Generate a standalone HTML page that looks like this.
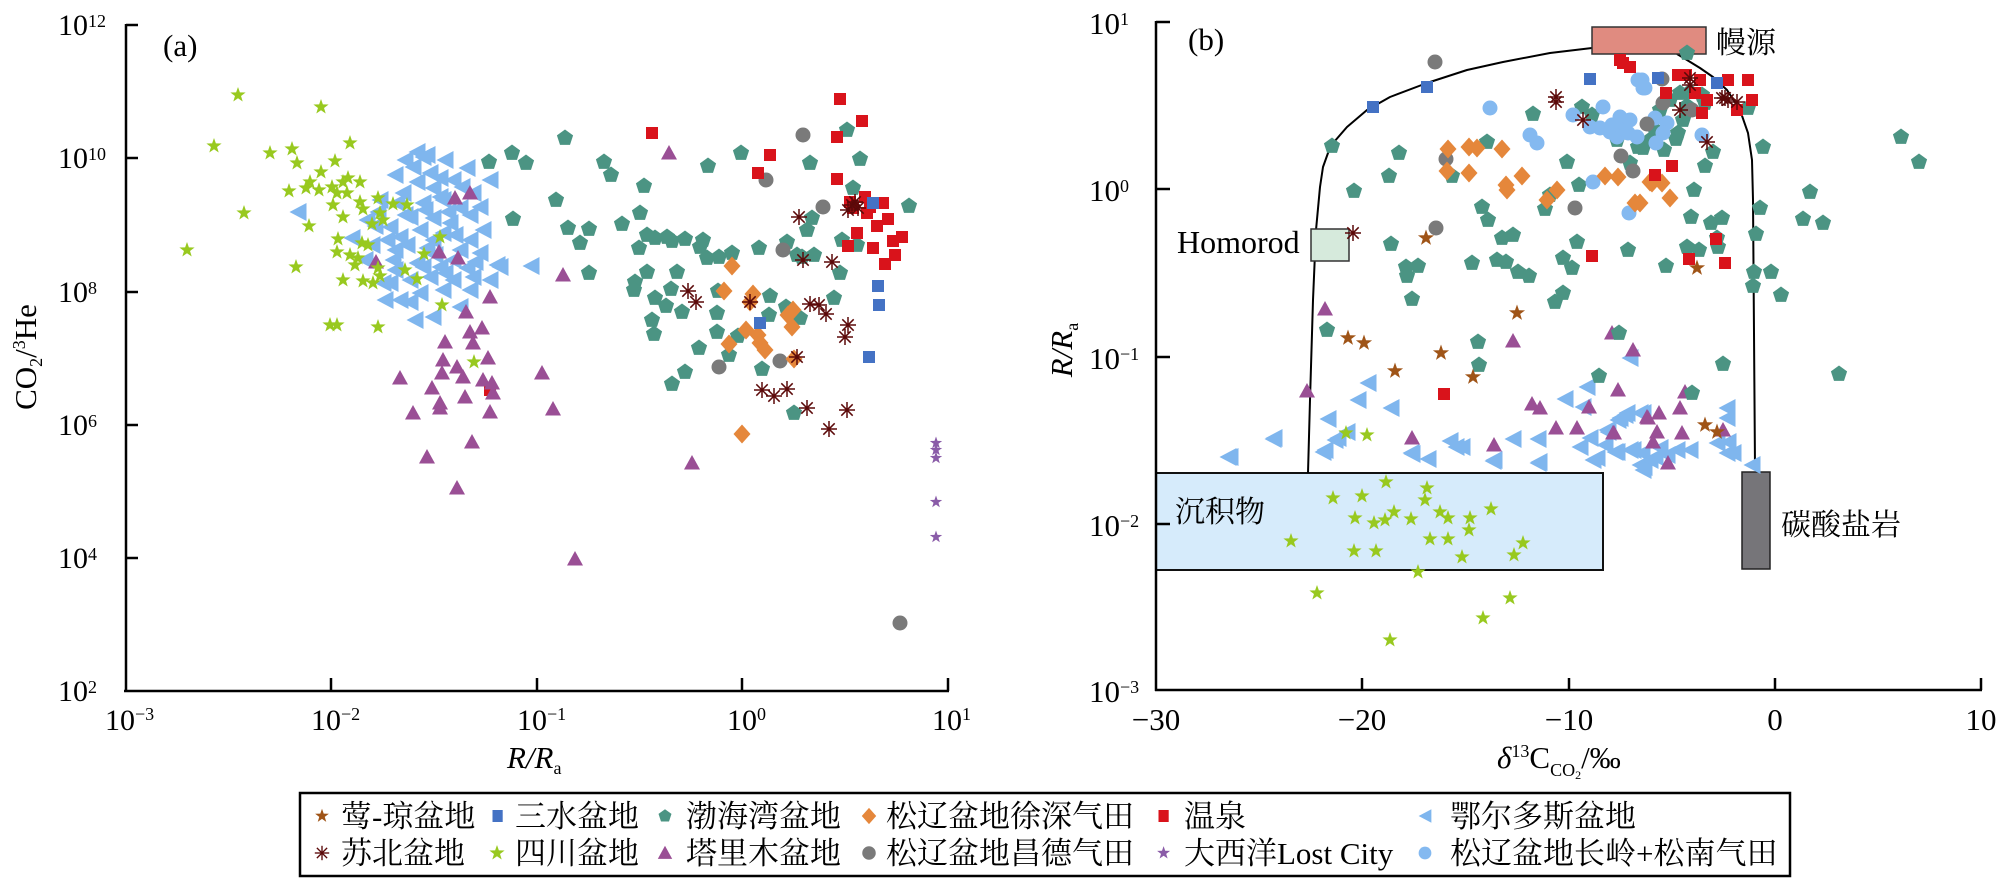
<!DOCTYPE html>
<html><head><meta charset="utf-8"><style>html,body{margin:0;padding:0;background:#fff}svg{display:block}</style></head>
<body>
<svg width="2000" height="878" viewBox="0 0 2000 878" xmlns="http://www.w3.org/2000/svg" font-family="'Liberation Serif','Noto Serif CJK SC',serif">
<defs>
<polygon id="pt" points="0,-8.5 8.1,-2.6 5,6.9 -5,6.9 -8.1,-2.6" fill="#4b9483"/>
<rect id="rs" x="-6" y="-6" width="12" height="12" fill="#d9131b"/>
<rect id="bs" x="-6" y="-6" width="12" height="12" fill="#4472c4"/>
<polygon id="dm" points="0,-9.5 8.5,0 0,9.5 -8.5,0" fill="#e5873b"/>
<circle id="gc" r="7.5" fill="#7a7a7a"/>
<circle id="lc" r="7.5" fill="#84b9f0"/>
<polygon id="lt" points="-8.5,0 8.5,-9 8.5,9" fill="#7fb6ee"/>
<polygon id="ut" points="0,-8 8,6.5 -8,6.5" fill="#9a4f95"/>
<polygon id="gs" points="0,-8 1.88,-2.6 7.6,-2.47 3.04,0.99 4.7,6.47 0,3.2 -4.7,6.47 -3.04,0.99 -7.6,-2.47 -1.88,-2.6" fill="#98c91f"/>
<polygon id="bst" points="0,-8.5 2,-2.75 8.08,-2.63 3.23,1.05 5,6.88 0,3.4 -5,6.88 -3.23,1.05 -8.08,-2.63 -2,-2.75" fill="#9f5417"/>
<polygon id="ps" points="0,-6.5 1.53,-2.1 6.18,-2.01 2.47,0.8 3.82,5.26 0,2.6 -3.82,5.26 -2.47,0.8 -6.18,-2.01 -1.53,-2.1" fill="#8a5ca8"/>
<g id="as" stroke="#5b0909" stroke-width="1.5"><line x1="-8" y1="0" x2="8" y2="0"/><line x1="0" y1="-8" x2="0" y2="8"/><line x1="-5.7" y1="-5.7" x2="5.7" y2="5.7"/><line x1="-5.7" y1="5.7" x2="5.7" y2="-5.7"/></g>
</defs>

<!-- ============ PANEL A ============ -->
<g stroke="#000" stroke-width="2.5" fill="none">
<line x1="126" y1="24" x2="126" y2="692"/>
<line x1="124" y1="691" x2="949" y2="691"/>
<line x1="126" y1="25" x2="138" y2="25"/>
<line x1="126" y1="158" x2="138" y2="158"/>
<line x1="126" y1="292" x2="138" y2="292"/>
<line x1="126" y1="425" x2="138" y2="425"/>
<line x1="126" y1="558" x2="138" y2="558"/>
<line x1="331" y1="691" x2="331" y2="678"/>
<line x1="537" y1="691" x2="537" y2="678"/>
<line x1="742" y1="691" x2="742" y2="678"/>
<line x1="948" y1="691" x2="948" y2="678"/>
</g>
<g font-size="30" fill="#000">
<text x="58" y="35">10<tspan font-size="18" dy="-8">12</tspan></text>
<text x="58" y="168">10<tspan font-size="18" dy="-8">10</tspan></text>
<text x="58" y="302">10<tspan font-size="18" dy="-8">8</tspan></text>
<text x="58" y="435">10<tspan font-size="18" dy="-8">6</tspan></text>
<text x="58" y="568">10<tspan font-size="18" dy="-8">4</tspan></text>
<text x="58" y="701">10<tspan font-size="18" dy="-8">2</tspan></text>
<text x="105" y="730">10<tspan font-size="18" dy="-10">−3</tspan></text>
<text x="311" y="730">10<tspan font-size="18" dy="-10">−2</tspan></text>
<text x="517" y="730">10<tspan font-size="18" dy="-10">−1</tspan></text>
<text x="727" y="730">10<tspan font-size="18" dy="-10">0</tspan></text>
<text x="932" y="730">10<tspan font-size="18" dy="-10">1</tspan></text>
</g>
<text x="163" y="56" font-size="31">(a)</text>
<text x="507" y="768" font-size="31" font-style="italic">R/R<tspan font-size="18" font-style="normal" dy="6">a</tspan></text>
<text transform="translate(36,357) rotate(-90)" text-anchor="middle" font-size="31">CO<tspan font-size="18" dy="6">2</tspan><tspan dy="-6">/</tspan><tspan font-size="18" dy="-11">3</tspan><tspan dy="11">He</tspan></text>

<!-- Ordos (a) -->
<g>
<use href="#lt" x="298" y="212"/><use href="#lt" x="417" y="152"/><use href="#lt" x="423" y="157"/><use href="#lt" x="427" y="155"/><use href="#lt" x="413" y="167"/><use href="#lt" x="430" y="173"/><use href="#lt" x="417" y="182"/><use href="#lt" x="467" y="168"/><use href="#lt" x="453" y="180"/><use href="#lt" x="433" y="188"/><use href="#lt" x="403" y="193"/><use href="#lt" x="473" y="193"/><use href="#lt" x="462" y="187"/><use href="#lt" x="443" y="200"/><use href="#lt" x="440" y="197"/><use href="#lt" x="423" y="203"/><use href="#lt" x="397" y="203"/><use href="#lt" x="460" y="208"/><use href="#lt" x="480" y="207"/><use href="#lt" x="410" y="217"/><use href="#lt" x="433" y="218"/><use href="#lt" x="448" y="212"/><use href="#lt" x="450" y="223"/><use href="#lt" x="367" y="220"/><use href="#lt" x="390" y="227"/><use href="#lt" x="420" y="230"/><use href="#lt" x="443" y="233"/><use href="#lt" x="483" y="230"/><use href="#lt" x="470" y="240"/><use href="#lt" x="387" y="240"/><use href="#lt" x="400" y="237"/><use href="#lt" x="433" y="240"/><use href="#lt" x="407" y="245"/><use href="#lt" x="427" y="248"/><use href="#lt" x="460" y="250"/><use href="#lt" x="480" y="253"/><use href="#lt" x="393" y="260"/><use href="#lt" x="417" y="263"/><use href="#lt" x="440" y="267"/><use href="#lt" x="453" y="260"/><use href="#lt" x="467" y="268"/><use href="#lt" x="497" y="265"/><use href="#lt" x="423" y="267"/><use href="#lt" x="445" y="273"/><use href="#lt" x="390" y="283"/><use href="#lt" x="383" y="283"/><use href="#lt" x="410" y="280"/><use href="#lt" x="430" y="277"/><use href="#lt" x="453" y="280"/><use href="#lt" x="473" y="277"/><use href="#lt" x="400" y="300"/><use href="#lt" x="420" y="293"/><use href="#lt" x="443" y="290"/><use href="#lt" x="460" y="307"/><use href="#lt" x="433" y="317"/><use href="#lt" x="410" y="302"/><use href="#lt" x="500" y="267"/><use href="#lt" x="531" y="266"/><use href="#lt" x="375" y="226"/><use href="#lt" x="395" y="250"/><use href="#lt" x="405" y="215"/>
<use href="#lt" x="395" y="175"/><use href="#lt" x="380" y="200"/><use href="#lt" x="470" y="215"/><use href="#lt" x="455" y="235"/><use href="#lt" x="395" y="270"/><use href="#lt" x="415" y="320"/><use href="#lt" x="385" y="300"/><use href="#lt" x="470" y="290"/><use href="#lt" x="490" y="280"/><use href="#lt" x="405" y="160"/><use href="#lt" x="445" y="160"/><use href="#lt" x="490" y="180"/><use href="#lt" x="435" y="255"/><use href="#lt" x="475" y="262"/><use href="#lt" x="372" y="245"/><use href="#lt" x="365" y="260"/><use href="#lt" x="352" y="238"/><use href="#lt" x="378" y="212"/><use href="#lt" x="425" y="210"/><use href="#lt" x="440" y="178"/>
</g>
<!-- Bohai (a) -->
<g>
<use href="#pt" x="489" y="162"/><use href="#pt" x="565" y="138"/><use href="#pt" x="512" y="153"/><use href="#pt" x="526" y="163"/><use href="#pt" x="604" y="162"/><use href="#pt" x="611" y="175"/><use href="#pt" x="644" y="186"/><use href="#pt" x="708" y="166"/><use href="#pt" x="741" y="153"/><use href="#pt" x="810" y="163"/><use href="#pt" x="847" y="130"/><use href="#pt" x="860" y="159"/><use href="#pt" x="853" y="188"/><use href="#pt" x="909" y="206"/><use href="#pt" x="556" y="200"/><use href="#pt" x="513" y="219"/><use href="#pt" x="568" y="228"/><use href="#pt" x="589" y="229"/><use href="#pt" x="580" y="243"/><use href="#pt" x="622" y="224"/><use href="#pt" x="640" y="213"/><use href="#pt" x="647" y="235"/><use href="#pt" x="655" y="238"/><use href="#pt" x="667" y="237"/><use href="#pt" x="672" y="241"/><use href="#pt" x="685" y="239"/><use href="#pt" x="639" y="248"/><use href="#pt" x="703" y="240"/><use href="#pt" x="700" y="247"/><use href="#pt" x="707" y="258"/><use href="#pt" x="719" y="257"/><use href="#pt" x="732" y="253"/><use href="#pt" x="759" y="248"/><use href="#pt" x="787" y="242"/><use href="#pt" x="797" y="255"/><use href="#pt" x="802" y="257"/><use href="#pt" x="814" y="255"/><use href="#pt" x="807" y="230"/><use href="#pt" x="812" y="218"/><use href="#pt" x="842" y="240"/><use href="#pt" x="857" y="245"/><use href="#pt" x="840" y="273"/><use href="#pt" x="589" y="273"/><use href="#pt" x="647" y="272"/><use href="#pt" x="635" y="282"/><use href="#pt" x="634" y="290"/><use href="#pt" x="677" y="272"/><use href="#pt" x="671" y="289"/><use href="#pt" x="655" y="298"/><use href="#pt" x="666" y="306"/><use href="#pt" x="682" y="312"/><use href="#pt" x="652" y="320"/><use href="#pt" x="654" y="334"/><use href="#pt" x="717" y="313"/><use href="#pt" x="717" y="332"/><use href="#pt" x="718" y="291"/><use href="#pt" x="770" y="296"/><use href="#pt" x="769" y="315"/><use href="#pt" x="786" y="307"/><use href="#pt" x="800" y="318"/><use href="#pt" x="834" y="298"/><use href="#pt" x="738" y="336"/><use href="#pt" x="729" y="355"/><use href="#pt" x="699" y="348"/><use href="#pt" x="685" y="372"/><use href="#pt" x="672" y="384"/><use href="#pt" x="762" y="369"/><use href="#pt" x="794" y="413"/>
</g>
<g>
<use href="#gc" x="803" y="135"/><use href="#gc" x="766" y="180"/><use href="#gc" x="823" y="207"/><use href="#gc" x="783" y="250"/><use href="#gc" x="719" y="367"/><use href="#gc" x="780" y="361"/><use href="#gc" x="900" y="623"/>
</g>
<g>
<use href="#dm" x="732" y="266"/><use href="#dm" x="724" y="291"/><use href="#dm" x="753" y="294"/><use href="#dm" x="750" y="302"/><use href="#dm" x="793" y="310"/><use href="#dm" x="788" y="315"/><use href="#dm" x="792" y="327"/><use href="#dm" x="746" y="330"/><use href="#dm" x="758" y="335"/><use href="#dm" x="760" y="343"/><use href="#dm" x="765" y="350"/><use href="#dm" x="729" y="344"/><use href="#dm" x="794" y="359"/><use href="#dm" x="742" y="434"/>
</g>
<g>
<use href="#bs" x="878" y="286"/><use href="#bs" x="879" y="305"/><use href="#bs" x="760" y="323"/><use href="#bs" x="869" y="357"/>
</g>
<g>
<use href="#rs" x="490" y="390"/><use href="#rs" x="840" y="99"/><use href="#rs" x="862" y="121"/><use href="#rs" x="652" y="133"/><use href="#rs" x="837" y="137"/><use href="#rs" x="770" y="155"/><use href="#rs" x="758" y="173"/><use href="#rs" x="837" y="179"/><use href="#rs" x="865" y="197"/><use href="#rs" x="850" y="202"/><use href="#rs" x="883" y="203"/><use href="#rs" x="867" y="213"/><use href="#rs" x="888" y="219"/><use href="#rs" x="877" y="226"/><use href="#rs" x="857" y="233"/><use href="#rs" x="902" y="237"/><use href="#rs" x="893" y="241"/><use href="#rs" x="848" y="246"/><use href="#rs" x="873" y="248"/><use href="#rs" x="895" y="255"/><use href="#rs" x="885" y="264"/><use href="#rs" x="853" y="208"/><use href="#rs" x="870" y="207"/>
<use href="#bs" x="873" y="203"/>
</g>
<g>
<use href="#ut" x="455" y="198"/><use href="#ut" x="470" y="193"/><use href="#ut" x="376" y="262"/><use href="#ut" x="439" y="252"/><use href="#ut" x="458" y="258"/><use href="#ut" x="490" y="297"/><use href="#ut" x="466" y="312"/><use href="#ut" x="445" y="342"/><use href="#ut" x="470" y="332"/><use href="#ut" x="482" y="328"/><use href="#ut" x="473" y="343"/><use href="#ut" x="443" y="360"/><use href="#ut" x="488" y="358"/><use href="#ut" x="457" y="367"/><use href="#ut" x="442" y="373"/><use href="#ut" x="463" y="377"/><use href="#ut" x="400" y="378"/><use href="#ut" x="432" y="388"/><use href="#ut" x="483" y="380"/><use href="#ut" x="492" y="383"/><use href="#ut" x="465" y="397"/><use href="#ut" x="440" y="403"/><use href="#ut" x="440" y="408"/><use href="#ut" x="413" y="413"/><use href="#ut" x="490" y="412"/><use href="#ut" x="493" y="393"/><use href="#ut" x="472" y="442"/><use href="#ut" x="669" y="153"/><use href="#ut" x="563" y="275"/><use href="#ut" x="542" y="373"/><use href="#ut" x="553" y="409"/><use href="#ut" x="427" y="457"/><use href="#ut" x="457" y="488"/><use href="#ut" x="575" y="559"/><use href="#ut" x="692" y="463"/>
</g>
<g>
<use href="#gs" x="238" y="95"/><use href="#gs" x="321" y="107"/><use href="#gs" x="214" y="146"/><use href="#gs" x="270" y="153"/><use href="#gs" x="292" y="149"/><use href="#gs" x="297" y="163"/><use href="#gs" x="350" y="143"/><use href="#gs" x="335" y="161"/><use href="#gs" x="321" y="172"/><use href="#gs" x="310" y="182"/><use href="#gs" x="289" y="191"/><use href="#gs" x="306" y="188"/><use href="#gs" x="319" y="190"/><use href="#gs" x="332" y="187"/><use href="#gs" x="343" y="182"/><use href="#gs" x="348" y="178"/><use href="#gs" x="360" y="182"/><use href="#gs" x="337" y="193"/><use href="#gs" x="347" y="193"/><use href="#gs" x="333" y="205"/><use href="#gs" x="360" y="202"/><use href="#gs" x="378" y="198"/><use href="#gs" x="363" y="209"/><use href="#gs" x="380" y="213"/><use href="#gs" x="343" y="217"/><use href="#gs" x="383" y="220"/><use href="#gs" x="393" y="204"/><use href="#gs" x="407" y="205"/><use href="#gs" x="372" y="224"/><use href="#gs" x="244" y="213"/><use href="#gs" x="309" y="226"/><use href="#gs" x="187" y="250"/><use href="#gs" x="338" y="239"/><use href="#gs" x="362" y="243"/><use href="#gs" x="368" y="245"/><use href="#gs" x="337" y="252"/><use href="#gs" x="350" y="255"/><use href="#gs" x="358" y="258"/><use href="#gs" x="355" y="265"/><use href="#gs" x="378" y="268"/><use href="#gs" x="405" y="270"/><use href="#gs" x="417" y="279"/><use href="#gs" x="343" y="280"/><use href="#gs" x="363" y="281"/><use href="#gs" x="373" y="283"/><use href="#gs" x="380" y="276"/><use href="#gs" x="424" y="254"/><use href="#gs" x="440" y="237"/><use href="#gs" x="296" y="267"/><use href="#gs" x="330" y="325"/><use href="#gs" x="337" y="325"/><use href="#gs" x="378" y="327"/><use href="#gs" x="442" y="305"/><use href="#gs" x="474" y="362"/>
</g>
<g>
<use href="#as" x="688" y="291"/><use href="#as" x="696" y="302"/><use href="#as" x="750" y="302"/><use href="#as" x="799" y="217"/><use href="#as" x="803" y="260"/><use href="#as" x="832" y="262"/><use href="#as" x="810" y="304"/><use href="#as" x="819" y="305"/><use href="#as" x="826" y="314"/><use href="#as" x="848" y="325"/><use href="#as" x="845" y="337"/><use href="#as" x="797" y="357"/><use href="#as" x="762" y="390"/><use href="#as" x="774" y="396"/><use href="#as" x="787" y="389"/><use href="#as" x="807" y="408"/><use href="#as" x="847" y="410"/><use href="#as" x="829" y="429"/><use href="#as" x="852" y="205"/><use href="#as" x="855" y="202"/><use href="#as" x="848" y="210"/><use href="#as" x="858" y="208"/>
</g>
<g>
<use href="#ps" x="936" y="443"/><use href="#ps" x="936" y="450"/><use href="#ps" x="936" y="458"/><use href="#ps" x="936" y="502"/><use href="#ps" x="936" y="537"/>
</g>

<!-- ============ PANEL B ============ -->
<rect x="1156" y="473" width="447" height="97" fill="#d6ebfb" stroke="#111" stroke-width="2"/>
<rect x="1742" y="472" width="28" height="97" fill="#767579" stroke="#222" stroke-width="1.5"/>
<polyline fill="none" stroke="#000" stroke-width="2" stroke-linejoin="round" points="1308,473 1310,400 1313,300 1316,230 1320,187 1323,167 1328,153 1334,142 1347,127 1367,110 1390,97 1427,83 1467,70 1503,62 1550,53 1592,48"/>
<polyline fill="none" stroke="#000" stroke-width="2" stroke-linejoin="round" points="1677,54 1687,60 1700,68 1713,77 1727,90 1740,110 1748,133 1752,160 1753,200 1754,333 1755,467"/>
<rect x="1592" y="27" width="114" height="27" fill="#e08b80" stroke="#333" stroke-width="1.5"/>
<rect x="1311" y="229" width="38" height="32" fill="#d6eadc" stroke="#333" stroke-width="1.5"/>

<g stroke="#000" stroke-width="2.5" fill="none">
<line x1="1156" y1="21" x2="1156" y2="691"/>
<line x1="1155" y1="690" x2="1982" y2="690"/>
<line x1="1156" y1="22" x2="1170" y2="22"/>
<line x1="1156" y1="189" x2="1170" y2="189"/>
<line x1="1156" y1="357" x2="1170" y2="357"/>
<line x1="1156" y1="524" x2="1170" y2="524"/>
<line x1="1362" y1="690" x2="1362" y2="678"/>
<line x1="1569" y1="690" x2="1569" y2="678"/>
<line x1="1775" y1="690" x2="1775" y2="678"/>
<line x1="1981" y1="690" x2="1981" y2="678"/>
</g>
<g font-size="31" fill="#000">
<text x="1089" y="34">10<tspan font-size="18" dy="-9">1</tspan></text>
<text x="1089" y="201">10<tspan font-size="18" dy="-9">0</tspan></text>
<text x="1089" y="369">10<tspan font-size="18" dy="-9">−1</tspan></text>
<text x="1089" y="536">10<tspan font-size="18" dy="-9">−2</tspan></text>
<text x="1089" y="702">10<tspan font-size="18" dy="-9">−3</tspan></text>
</g>
<g font-size="31" fill="#000" text-anchor="middle">
<text x="1156" y="730">−30</text>
<text x="1362" y="730">−20</text>
<text x="1569" y="730">−10</text>
<text x="1775" y="730">0</text>
<text x="1981" y="730">10</text>
</g>
<text x="1188" y="50" font-size="31">(b)</text>
<text x="1177" y="253" font-size="32">Homorod</text>
<text x="1716" y="53" font-size="30">幔源</text>
<text x="1175" y="522" font-size="30">沉积物</text>
<text x="1781" y="535" font-size="30">碳酸盐岩</text>
<text transform="translate(1072,350) rotate(-90)" text-anchor="middle" font-size="31" font-style="italic">R/R<tspan font-size="18" font-style="normal" dy="6">a</tspan></text>
<text x="1497" y="768" font-size="31"><tspan font-style="italic">δ</tspan><tspan font-size="18" dy="-11">13</tspan><tspan dy="11">C</tspan><tspan font-size="18" dy="8">CO</tspan><tspan font-size="12" dy="3">2</tspan><tspan dy="-11">/‰</tspan></text>

<!-- Ordos (b) -->
<g>
<use href="#lt" x="1368" y="383"/><use href="#lt" x="1358" y="400"/><use href="#lt" x="1391" y="408"/><use href="#lt" x="1328" y="419"/><use href="#lt" x="1273" y="439"/><use href="#lt" x="1228" y="457"/><use href="#lt" x="1323" y="452"/><use href="#lt" x="1335" y="440"/><use href="#lt" x="1347" y="432"/><use href="#lt" x="1412" y="454"/><use href="#lt" x="1428" y="459"/><use href="#lt" x="1450" y="441"/><use href="#lt" x="1462" y="447"/><use href="#lt" x="1493" y="461"/><use href="#lt" x="1513" y="439"/><use href="#lt" x="1538" y="439"/><use href="#lt" x="1538" y="463"/><use href="#lt" x="1565" y="399"/><use href="#lt" x="1587" y="387"/><use href="#lt" x="1583" y="407"/><use href="#lt" x="1590" y="438"/><use href="#lt" x="1597" y="458"/><use href="#lt" x="1608" y="432"/><use href="#lt" x="1617" y="452"/><use href="#lt" x="1620" y="418"/><use href="#lt" x="1627" y="413"/><use href="#lt" x="1630" y="358"/><use href="#lt" x="1640" y="413"/><use href="#lt" x="1633" y="450"/><use href="#lt" x="1640" y="465"/><use href="#lt" x="1643" y="470"/><use href="#lt" x="1625" y="415"/><use href="#lt" x="1618" y="420"/><use href="#lt" x="1607" y="430"/><use href="#lt" x="1630" y="450"/><use href="#lt" x="1642" y="453"/><use href="#lt" x="1655" y="457"/><use href="#lt" x="1667" y="455"/><use href="#lt" x="1677" y="450"/><use href="#lt" x="1690" y="450"/><use href="#lt" x="1643" y="413"/><use href="#lt" x="1727" y="408"/><use href="#lt" x="1727" y="418"/><use href="#lt" x="1717" y="443"/><use href="#lt" x="1728" y="442"/><use href="#lt" x="1733" y="453"/><use href="#lt" x="1727" y="453"/><use href="#lt" x="1752" y="465"/><use href="#lt" x="1230" y="457"/><use href="#lt" x="1274" y="438"/><use href="#lt" x="1325" y="450"/><use href="#lt" x="1338" y="438"/><use href="#lt" x="1411" y="453"/><use href="#lt" x="1456" y="447"/><use href="#lt" x="1494" y="460"/><use href="#lt" x="1539" y="462"/><use href="#lt" x="1593" y="460"/><use href="#lt" x="1615" y="452"/><use href="#lt" x="1644" y="467"/><use href="#lt" x="1650" y="460"/><use href="#lt" x="1660" y="448"/><use href="#lt" x="1605" y="445"/><use href="#lt" x="1580" y="447"/>
</g>
<g>
<use href="#pt" x="1332" y="146"/><use href="#pt" x="1399" y="153"/><use href="#pt" x="1389" y="176"/><use href="#pt" x="1354" y="191"/><use href="#pt" x="1452" y="176"/><use href="#pt" x="1487" y="142"/><use href="#pt" x="1533" y="114"/><use href="#pt" x="1582" y="107"/><use href="#pt" x="1592" y="115"/><use href="#pt" x="1567" y="162"/><use href="#pt" x="1579" y="185"/><use href="#pt" x="1545" y="209"/><use href="#pt" x="1550" y="195"/><use href="#pt" x="1482" y="207"/><use href="#pt" x="1488" y="220"/><use href="#pt" x="1502" y="238"/><use href="#pt" x="1513" y="235"/><use href="#pt" x="1577" y="242"/><use href="#pt" x="1628" y="250"/><use href="#pt" x="1391" y="244"/><use href="#pt" x="1406" y="267"/><use href="#pt" x="1418" y="266"/><use href="#pt" x="1407" y="276"/><use href="#pt" x="1472" y="263"/><use href="#pt" x="1497" y="260"/><use href="#pt" x="1506" y="262"/><use href="#pt" x="1518" y="272"/><use href="#pt" x="1529" y="276"/><use href="#pt" x="1563" y="258"/><use href="#pt" x="1572" y="268"/><use href="#pt" x="1412" y="299"/><use href="#pt" x="1555" y="302"/><use href="#pt" x="1563" y="293"/><use href="#pt" x="1327" y="330"/><use href="#pt" x="1478" y="342"/><use href="#pt" x="1479" y="365"/><use href="#pt" x="1599" y="376"/><use href="#pt" x="1638" y="147"/><use href="#pt" x="1630" y="163"/><use href="#pt" x="1617" y="140"/><use href="#pt" x="1687" y="53"/><use href="#pt" x="1680" y="93"/><use href="#pt" x="1690" y="92"/><use href="#pt" x="1702" y="95"/><use href="#pt" x="1705" y="103"/><use href="#pt" x="1687" y="106"/><use href="#pt" x="1683" y="120"/><use href="#pt" x="1678" y="133"/><use href="#pt" x="1676" y="139"/><use href="#pt" x="1664" y="150"/><use href="#pt" x="1643" y="148"/><use href="#pt" x="1748" y="108"/><use href="#pt" x="1763" y="147"/><use href="#pt" x="1713" y="152"/><use href="#pt" x="1705" y="166"/><use href="#pt" x="1694" y="190"/><use href="#pt" x="1691" y="217"/><use href="#pt" x="1711" y="223"/><use href="#pt" x="1722" y="218"/><use href="#pt" x="1717" y="238"/><use href="#pt" x="1718" y="247"/><use href="#pt" x="1687" y="247"/><use href="#pt" x="1699" y="250"/><use href="#pt" x="1666" y="266"/><use href="#pt" x="1760" y="208"/><use href="#pt" x="1756" y="234"/><use href="#pt" x="1754" y="272"/><use href="#pt" x="1771" y="272"/><use href="#pt" x="1753" y="286"/><use href="#pt" x="1781" y="295"/><use href="#pt" x="1810" y="192"/><use href="#pt" x="1803" y="219"/><use href="#pt" x="1823" y="223"/><use href="#pt" x="1901" y="137"/><use href="#pt" x="1919" y="162"/><use href="#pt" x="1723" y="364"/><use href="#pt" x="1839" y="374"/><use href="#pt" x="1660" y="110"/><use href="#pt" x="1670" y="100"/><use href="#pt" x="1650" y="140"/><use href="#pt" x="1655" y="130"/>
</g>
<g>
<use href="#lc" x="1490" y="108"/><use href="#lc" x="1530" y="135"/><use href="#lc" x="1537" y="143"/><use href="#lc" x="1573" y="115"/><use href="#lc" x="1603" y="107"/><use href="#lc" x="1600" y="128"/><use href="#lc" x="1610" y="132"/><use href="#lc" x="1620" y="117"/><use href="#lc" x="1623" y="127"/><use href="#lc" x="1617" y="137"/><use href="#lc" x="1628" y="133"/><use href="#lc" x="1637" y="137"/><use href="#lc" x="1638" y="80"/><use href="#lc" x="1643" y="88"/><use href="#lc" x="1593" y="182"/><use href="#lc" x="1629" y="213"/><use href="#lc" x="1642" y="80"/><use href="#lc" x="1645" y="88"/><use href="#lc" x="1655" y="118"/><use href="#lc" x="1667" y="123"/><use href="#lc" x="1663" y="133"/><use href="#lc" x="1656" y="143"/><use href="#lc" x="1702" y="135"/><use href="#lc" x="1612" y="125"/><use href="#lc" x="1590" y="127"/><use href="#lc" x="1630" y="120"/>
</g>
<g>
<use href="#gc" x="1435" y="62"/><use href="#gc" x="1446" y="159"/><use href="#gc" x="1436" y="228"/><use href="#gc" x="1575" y="208"/><use href="#gc" x="1621" y="156"/><use href="#gc" x="1633" y="171"/><use href="#gc" x="1647" y="124"/><use href="#gc" x="1662" y="79"/><use href="#gc" x="1663" y="103"/><use href="#gc" x="1692" y="110"/>
</g>
<g>
<use href="#dm" x="1448" y="149"/><use href="#dm" x="1469" y="147"/><use href="#dm" x="1477" y="148"/><use href="#dm" x="1502" y="149"/><use href="#dm" x="1447" y="171"/><use href="#dm" x="1469" y="173"/><use href="#dm" x="1522" y="176"/><use href="#dm" x="1506" y="185"/><use href="#dm" x="1507" y="190"/><use href="#dm" x="1557" y="190"/><use href="#dm" x="1547" y="200"/><use href="#dm" x="1605" y="176"/><use href="#dm" x="1618" y="177"/><use href="#dm" x="1635" y="203"/><use href="#dm" x="1650" y="182"/><use href="#dm" x="1652" y="183"/><use href="#dm" x="1662" y="183"/><use href="#dm" x="1670" y="198"/><use href="#dm" x="1640" y="203"/>
</g>
<g>
<use href="#rs" x="1620" y="60"/><use href="#rs" x="1630" y="67"/><use href="#rs" x="1623" y="63"/><use href="#rs" x="1592" y="256"/><use href="#rs" x="1444" y="394"/><use href="#rs" x="1678" y="75"/><use href="#rs" x="1700" y="80"/><use href="#rs" x="1728" y="80"/><use href="#rs" x="1748" y="80"/><use href="#rs" x="1666" y="93"/><use href="#rs" x="1695" y="93"/><use href="#rs" x="1707" y="100"/><use href="#rs" x="1752" y="100"/><use href="#rs" x="1737" y="110"/><use href="#rs" x="1702" y="113"/><use href="#rs" x="1672" y="166"/><use href="#rs" x="1655" y="175"/><use href="#rs" x="1716" y="239"/><use href="#rs" x="1689" y="259"/><use href="#rs" x="1725" y="263"/><use href="#rs" x="1686" y="75"/>
</g>
<g>
<use href="#bs" x="1373" y="107"/><use href="#bs" x="1427" y="87"/><use href="#bs" x="1590" y="79"/><use href="#bs" x="1658" y="78"/><use href="#bs" x="1717" y="83"/>
</g>
<g>
<use href="#ut" x="1325" y="309"/><use href="#ut" x="1307" y="391"/><use href="#ut" x="1513" y="341"/><use href="#ut" x="1612" y="333"/><use href="#ut" x="1633" y="350"/><use href="#ut" x="1532" y="404"/><use href="#ut" x="1540" y="408"/><use href="#ut" x="1618" y="390"/><use href="#ut" x="1589" y="407"/><use href="#ut" x="1556" y="428"/><use href="#ut" x="1577" y="428"/><use href="#ut" x="1613" y="433"/><use href="#ut" x="1412" y="438"/><use href="#ut" x="1494" y="445"/><use href="#ut" x="1647" y="417"/><use href="#ut" x="1685" y="392"/><use href="#ut" x="1680" y="408"/><use href="#ut" x="1659" y="413"/><use href="#ut" x="1648" y="418"/><use href="#ut" x="1657" y="432"/><use href="#ut" x="1682" y="433"/><use href="#ut" x="1653" y="442"/><use href="#ut" x="1614" y="433"/><use href="#ut" x="1723" y="430"/><use href="#ut" x="1668" y="463"/>
</g>
<g>
<use href="#pt" x="1619" y="333"/><use href="#pt" x="1692" y="393"/>
</g>
<g>
<use href="#gs" x="1346" y="433"/><use href="#gs" x="1367" y="435"/><use href="#gs" x="1386" y="482"/><use href="#gs" x="1427" y="488"/><use href="#gs" x="1333" y="498"/><use href="#gs" x="1362" y="496"/><use href="#gs" x="1425" y="500"/><use href="#gs" x="1491" y="509"/><use href="#gs" x="1440" y="512"/><use href="#gs" x="1394" y="512"/><use href="#gs" x="1355" y="518"/><use href="#gs" x="1411" y="519"/><use href="#gs" x="1385" y="520"/><use href="#gs" x="1374" y="523"/><use href="#gs" x="1448" y="518"/><use href="#gs" x="1470" y="518"/><use href="#gs" x="1469" y="530"/><use href="#gs" x="1430" y="539"/><use href="#gs" x="1448" y="539"/><use href="#gs" x="1291" y="541"/><use href="#gs" x="1523" y="543"/><use href="#gs" x="1354" y="551"/><use href="#gs" x="1376" y="551"/><use href="#gs" x="1462" y="557"/><use href="#gs" x="1514" y="555"/><use href="#gs" x="1418" y="572"/><use href="#gs" x="1317" y="593"/><use href="#gs" x="1510" y="598"/><use href="#gs" x="1483" y="618"/><use href="#gs" x="1390" y="640"/>
</g>
<g>
<use href="#bst" x="1426" y="238"/><use href="#bst" x="1517" y="313"/><use href="#bst" x="1348" y="338"/><use href="#bst" x="1364" y="343"/><use href="#bst" x="1441" y="353"/><use href="#bst" x="1395" y="371"/><use href="#bst" x="1473" y="377"/><use href="#bst" x="1697" y="268"/><use href="#bst" x="1705" y="425"/><use href="#bst" x="1717" y="432"/>
</g>
<g>
<use href="#as" x="1556" y="97"/><use href="#as" x="1556" y="102"/><use href="#as" x="1583" y="120"/><use href="#as" x="1353" y="233"/><use href="#as" x="1690" y="78"/><use href="#as" x="1690" y="85"/><use href="#as" x="1725" y="98"/><use href="#as" x="1728" y="100"/><use href="#as" x="1737" y="102"/><use href="#as" x="1722" y="98"/><use href="#as" x="1680" y="110"/><use href="#as" x="1707" y="142"/>
</g>

<!-- ============ LEGEND ============ -->
<rect x="300" y="793" width="1490" height="83" fill="none" stroke="#000" stroke-width="2.5"/>
<g>
<use href="#bst" transform="translate(322,816) scale(0.85)"/>
<use href="#bs" transform="translate(497.6,816) scale(0.85,1)"/>
<use href="#pt" transform="translate(665,816) scale(0.8)"/>
<use href="#dm" transform="translate(869,816) scale(0.85)"/>
<use href="#rs" transform="translate(1163.6,816) scale(0.85,1)"/>
<use href="#lt" transform="translate(1425,816) scale(0.75)"/>
<use href="#as" transform="translate(322,853) scale(0.9)"/>
<use href="#gs" transform="translate(497,853)"/>
<use href="#ut" transform="translate(665,853) scale(0.9)"/>
<use href="#gc" transform="translate(869,853) scale(0.9)"/>
<use href="#ps" transform="translate(1163.6,853) scale(1.05)"/>
<use href="#lc" transform="translate(1425,853) scale(0.85)"/>
</g>
<g font-size="31" fill="#000">
<text x="341" y="827">莺-琼盆地</text>
<text x="515" y="827">三水盆地</text>
<text x="686" y="827">渤海湾盆地</text>
<text x="886" y="827">松辽盆地徐深气田</text>
<text x="1184" y="827">温泉</text>
<text x="1450" y="827">鄂尔多斯盆地</text>
<text x="341" y="864">苏北盆地</text>
<text x="515" y="864">四川盆地</text>
<text x="686" y="864">塔里木盆地</text>
<text x="886" y="864">松辽盆地昌德气田</text>
<text x="1184" y="864">大西洋Lost City</text>
<text x="1450" y="864">松辽盆地长岭+松南气田</text>
</g>
</svg>
</body></html>
